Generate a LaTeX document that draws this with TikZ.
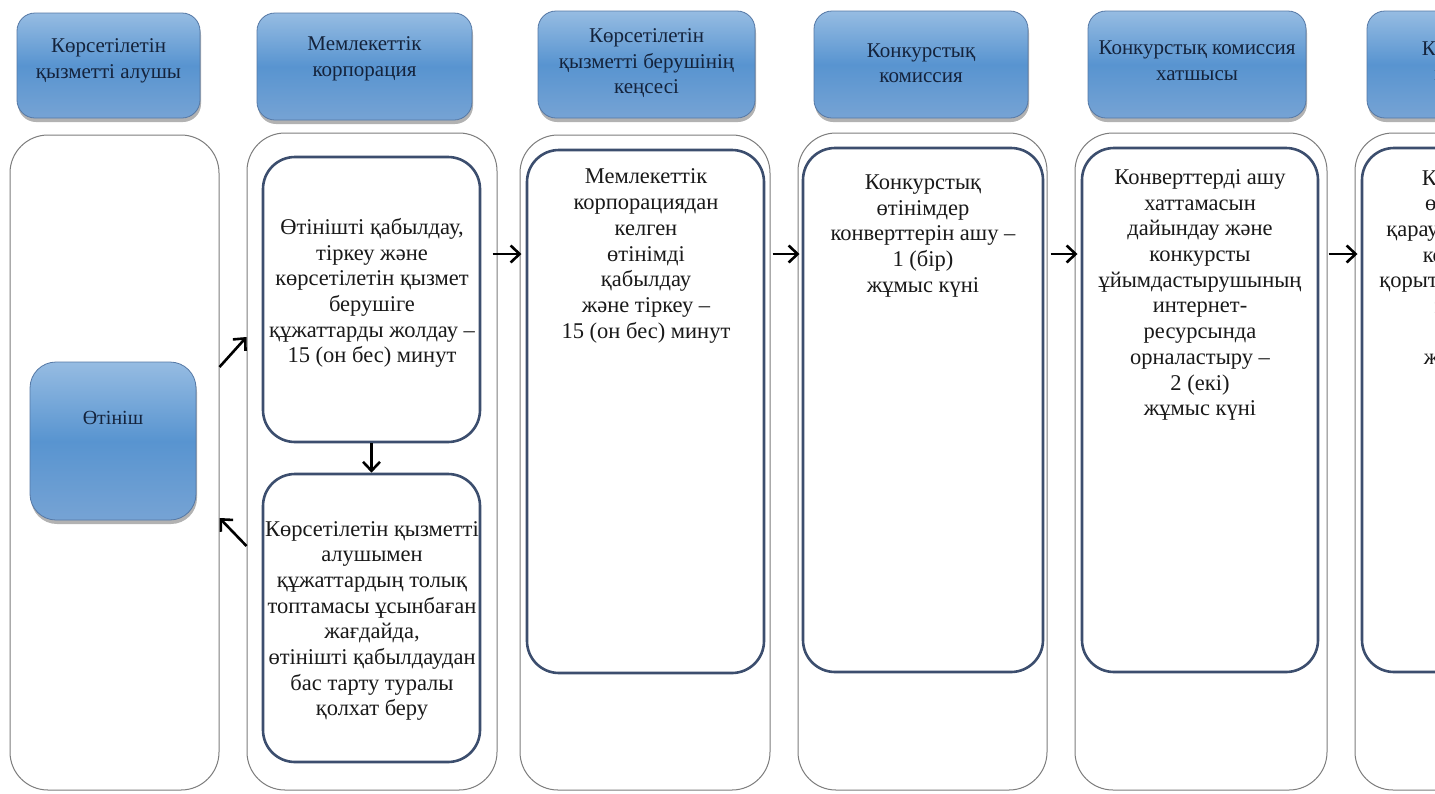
\documentclass[tikz,border=0pt]{standalone}
\usepackage{fontspec}
\setmainfont{Liberation Serif}
\usetikzlibrary{arrows.meta,shadows,calc}
\definecolor{hdrtop}{RGB}{150,188,226}
\definecolor{hdrmid}{RGB}{88,148,208}
\definecolor{hdrbot}{RGB}{118,163,212}
\definecolor{hdredge}{RGB}{85,120,165}
\definecolor{boxedge}{RGB}{60,78,110}
\definecolor{laneedge}{RGB}{125,125,125}
\definecolor{txt}{RGB}{25,25,25}
\definecolor{hdrtxt}{RGB}{20,35,60}
\tikzset{
  lane/.style={draw=laneedge, line width=1pt, rounded corners=38pt, inner sep=0pt},
  hdr/.style={draw=hdredge, line width=0.8pt, rounded corners=18pt,
    top color=hdrtop, bottom color=hdrbot, middle color=hdrmid,
    drop shadow={shadow xshift=1pt, shadow yshift=-4pt, fill=black, opacity=0.3},
    inner sep=0pt},
  stepbox/.style={draw=boxedge, line width=2.6pt, rounded corners=32pt, fill=white, inner sep=0pt},
  body/.style={font=\fontsize{22.5}{25.7}\selectfont, align=center, text=txt, inner sep=0pt},
  hdrtext/.style={font=\fontsize{21}{25.5}\selectfont, align=center, text=hdrtxt, inner sep=0pt},
  arr/.style={line width=2.6pt, -{Straight Barb[length=9pt,width=17pt,line width=2.6pt]}},
}
\begin{document}
\begin{tikzpicture}[x=1pt,y=-1pt]
\useasboundingbox (0,0) rectangle (1435,793);
\clip (0,0) rectangle (1435,793);
\fill[white] (0,0) rectangle (1435,793);

% lanes
\node[lane, minimum width=209pt, minimum height=655pt] (l1) at (114.5,462.5) {};
\node[lane, minimum width=250pt, minimum height=657pt] (l2) at (372,461.5) {};
\node[lane, minimum width=250pt, minimum height=655pt] (l3) at (645,462.5) {};
\node[lane, minimum width=249pt, minimum height=657pt] (l4) at (922.5,461.5) {};
\node[lane, minimum width=252pt, minimum height=657pt] (l5) at (1201,461.5) {};
\node[lane, minimum width=250pt, minimum height=657pt] (l6) at (1480,461.5) {};

% headers
\node[hdr, minimum width=183pt, minimum height=105pt] (h1) at (108.5,65.5) {};
\node[hdr, minimum width=215pt, minimum height=107pt] (h2) at (364.5,66.5) {};
\node[hdr, minimum width=217pt, minimum height=107pt] (h3) at (646.5,64.5) {};
\node[hdr, minimum width=214pt, minimum height=107pt] (h4) at (921,64.5) {};
\node[hdr, minimum width=218pt, minimum height=107pt] (h5) at (1197,64.5) {};
\node[hdr, minimum width=218pt, minimum height=107pt] (h6) at (1476,64.5) {};

\node[hdrtext] (h1t) at (108.5,61) {Көрсетілетін\\қызметті алушы};
\node[hdrtext] (h2t) at (364.5,59) {Мемлекеттік\\корпорация};
\node[hdrtext] (h3t) at (646.5,63.5) {Көрсетілетін\\қызметті берушінің\\кеңсесі};
\node[hdrtext] (h4t) at (921,63) {Конкурстық\\комиссия};
\node[hdrtext] (h5t) at (1197,60.5) {Конкурстық комиссия\\хатшысы};
\node[hdrtext] (h6t) at (1476,61) {Конкурстық\\комиссия};

% application box
\node[hdr, rounded corners=26pt, minimum width=166pt, minimum height=158pt] (app) at (113,441) {};
\node[hdrtext, font=\fontsize{20}{24}\selectfont] (appt) at (113,418) {Өтініш};

% step boxes
\node[stepbox, minimum width=217pt, minimum height=285pt] (c2a) at (371.5,299.5) {};
\node[stepbox, minimum width=217pt, minimum height=288pt] (c2b) at (371.5,618) {};
\node[stepbox, minimum width=237pt, minimum height=523pt] (c3) at (645.5,411.5) {};
\node[stepbox, minimum width=240pt, minimum height=524pt] (c4) at (923,410) {};
\node[stepbox, minimum width=236pt, minimum height=524pt] (c5) at (1200,410) {};
\node[stepbox, minimum width=236pt, minimum height=524pt] (c6) at (1480,410) {};

\node[body] (c2at) at (372,293) {Өтінішті қабылдау,\\тіркеу және\\көрсетілетін қызмет\\берушіге\\құжаттарды жолдау –\\15 (он бес) минут};
\node[body] (c2bt) at (372,621) {Көрсетілетін қызметті\\алушымен\\құжаттардың толық\\топтамасы ұсынбаған\\жағдайда,\\өтінішті қабылдаудан\\бас тарту туралы\\қолхат беру};
\node[body] (c3t) at (646,256) {Мемлекеттік\\корпорациядан\\келген\\өтінімді\\қабылдау\\және тіркеу –\\15 (он бес) минут};
\node[body] (c4t) at (923,236) {Конкурстық\\өтінімдер\\конверттерін ашу –\\1 (бір)\\жұмыс күні};
\node[body] (c5t) at (1200,295) {Конверттерді ашу\\хаттамасын\\дайындау және\\конкурсты\\ұйымдастырушының\\интернет-\\ресурсында\\орналастыру –\\2 (екі)\\жұмыс күні};
\node[body] (c6t) at (1480,270) {Конкурстық\\өтінімдерді\\қарау және конкурс\\комиссиясы\\қорытынды шешімін\\шығару –\\10 (он)\\жұмыс күні};

% connectors
\draw[arr] (l1.east |- 0,367) -- (l2.west |- 0,337);
\draw[arr] (l2.west |- 0,546) -- (l1.east |- 0,518);
\draw[arr] (c2a.south) -- (c2b.north);
\draw[arr] ($(l2.east |- 0,254)+(-5,0)$) -- ($(l3.west |- 0,254)+(2,0)$);
\draw[arr] ($(l3.east |- 0,254)+(2,0)$) -- ($(l4.west |- 0,254)+(2,0)$);
\draw[arr] ($(l4.east |- 0,254)+(3,0)$) -- ($(l5.west |- 0,254)+(3,0)$);
\draw[arr] ($(l5.east |- 0,254)+(1,0)$) -- ($(l6.west |- 0,254)+(3,0)$);
\end{tikzpicture}
\end{document}
